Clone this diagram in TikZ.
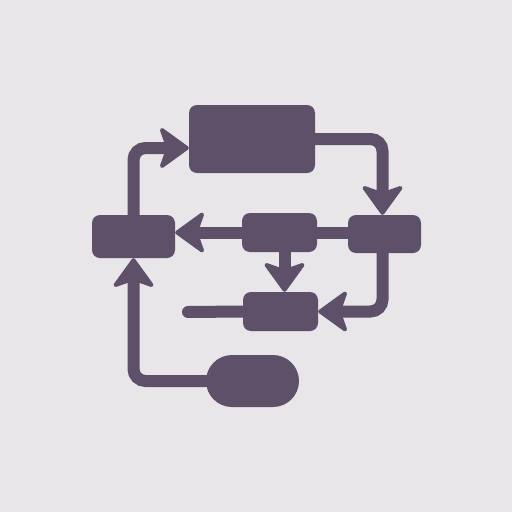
\documentclass[tikz,border=0pt]{standalone}
\usetikzlibrary{arrows.meta}
\definecolor{bg}{HTML}{E8E6E8}
\definecolor{ink}{HTML}{5E5068}
\begin{document}
\begin{tikzpicture}[x=1pt,y=-1pt,
  box/.style={fill=ink,draw=none,rounded corners=8pt,inner sep=0pt},
  conn/.style={draw=ink,line width=12pt,line cap=round,rounded corners=12pt},
  tipped/.style={conn,-{Stealth[width=46pt,length=32pt,inset=8pt,line width=4pt,round]}}]
\fill[bg] (0,0) rectangle (512,512);
\useasboundingbox (0,0) rectangle (512,512);
\node[box,minimum width=126pt,minimum height=68pt] (top) at (252,139) {};
\node[box,minimum width=83pt,minimum height=43pt] (left) at (133.5,236.5) {};
\node[box,minimum width=75pt,minimum height=39pt] (mid) at (279.5,232.5) {};
\node[box,minimum width=73pt,minimum height=38pt] (right) at (384.5,234) {};
\node[box,minimum width=75pt,minimum height=39pt] (lower) at (280.5,311.5) {};
\node[box,rounded corners=26pt,minimum width=93pt,minimum height=52pt] (oval) at (252.5,381) {};
\coordinate (free) at (188,312);
\draw[tipped] (left.north) |- ([yshift=-9pt]top.west);
\draw[tipped] (top.east) -| ([xshift=-2pt]right.north);
\draw[tipped] (mid.west) -- (mid.west -| left.east);
\draw[conn] (mid.east) -- (mid.east -| right.west);
\draw[tipped] ([xshift=5pt]mid.south) -- ([xshift=5pt]mid.south |- lower.north);
\draw[tipped] ([xshift=-2pt]right.south) |- (lower.east);
\draw[conn] (free) -- (lower.west);
\draw[tipped] (oval.west) -| (left.south);
\end{tikzpicture}
\end{document}
